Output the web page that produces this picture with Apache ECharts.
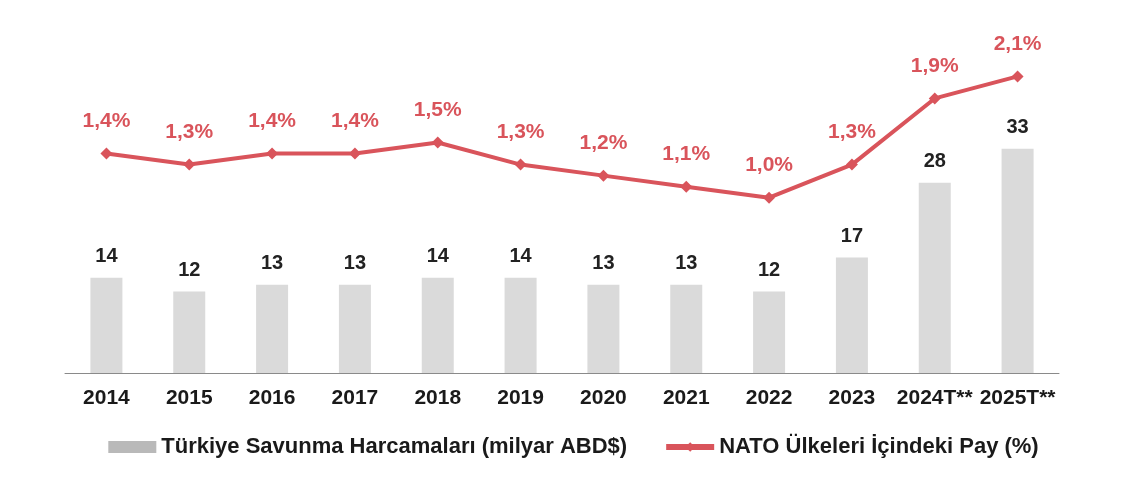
<!DOCTYPE html>
<html>
<head>
<meta charset="utf-8">
<style>
  html, body { margin: 0; padding: 0; background: #fff; }
  #chart { width: 1147px; height: 484px; }
</style>
<script src="https://cdn.jsdelivr.net/npm/echarts@6/dist/echarts.min.js"></script>
</head>
<body>
<div id="chart"></div>
<script>
// yillar (T = tahmin)
const years = ['2014', '2015', '2016', '2017', '2018', '2019', '2020', '2021', '2022', '2023', '2024T**', '2025T**']
// Türkiye savunma harcamalari, milyar ABD$
const spending = [14, 12, 13, 13, 14, 14, 13, 13, 12, 17, 28, 33]
// NATO ülkeleri icindeki pay, %
const natoShare = [1.4, 1.3, 1.4, 1.4, 1.5, 1.3, 1.2, 1.1, 1.0, 1.3, 1.9, 2.1]

const barName = 'Türkiye Savunma Harcamaları (milyar ABD$)'
const lineName = 'NATO Ülkeleri İçindeki Pay (%)'
const red = '#d9545b'
const font = 'Liberation Sans, Arial, sans-serif'

const chart = echarts.init(document.getElementById('chart'))

chart.setOption({
  animation: false,
  textStyle: { fontFamily: font },
  grid: {
    left: 65,
    right: 88,
    top: 40,
    bottom: 111
  },
  legend: {
    bottom: 21,
    left: 'center',
    itemGap: 36,
    itemWidth: 48,
    itemHeight: 12,
    textStyle: { fontSize: 22, fontWeight: 'bold', color: '#1a1a1a', fontFamily: font },
    data: [
      { name: barName, icon: 'rect', itemStyle: { color: '#b9b9b9' } },
      { name: lineName, lineStyle: { width: 6 } }
    ]
  },
  xAxis: {
    type: 'category',
    data: years,
    axisTick: { show: false },
    axisLine: { lineStyle: { color: '#8a8a8a', width: 1 } },
    axisLabel: {
      interval: 0,
      margin: 15,
      fontSize: 21,
      fontWeight: 'bold',
      color: '#1a1a1a'
    }
  },
  yAxis: [{
    type: 'value',
    min: 0,
    max: 49,
    show: false,
    splitLine: { show: false }
  }, {
    type: 'value',
    min: -0.59,
    max: 2.43,
    show: false,
    splitLine: { show: false }
  }],
  series: [{
    name: barName,
    type: 'bar',
    data: spending,
    barWidth: 32,
    itemStyle: { color: '#dadada' },
    label: {
      show: true,
      position: 'top',
      distance: 11,
      fontSize: 20,
      fontWeight: 'bold',
      color: '#222'
    }
  }, {
    name: lineName,
    type: 'line',
    yAxisIndex: 1,
    data: natoShare,
    symbol: 'diamond',
    symbolSize: 12,
    lineStyle: { color: red, width: 4 },
    itemStyle: { color: red },
    label: {
      show: true,
      position: 'top',
      distance: 16,
      fontSize: 21,
      fontWeight: 'bold',
      color: red,
      formatter: p => p.value.toFixed(1).replace('.', ',') + '%'
    }
  }]
})
</script>
</body>
</html>
